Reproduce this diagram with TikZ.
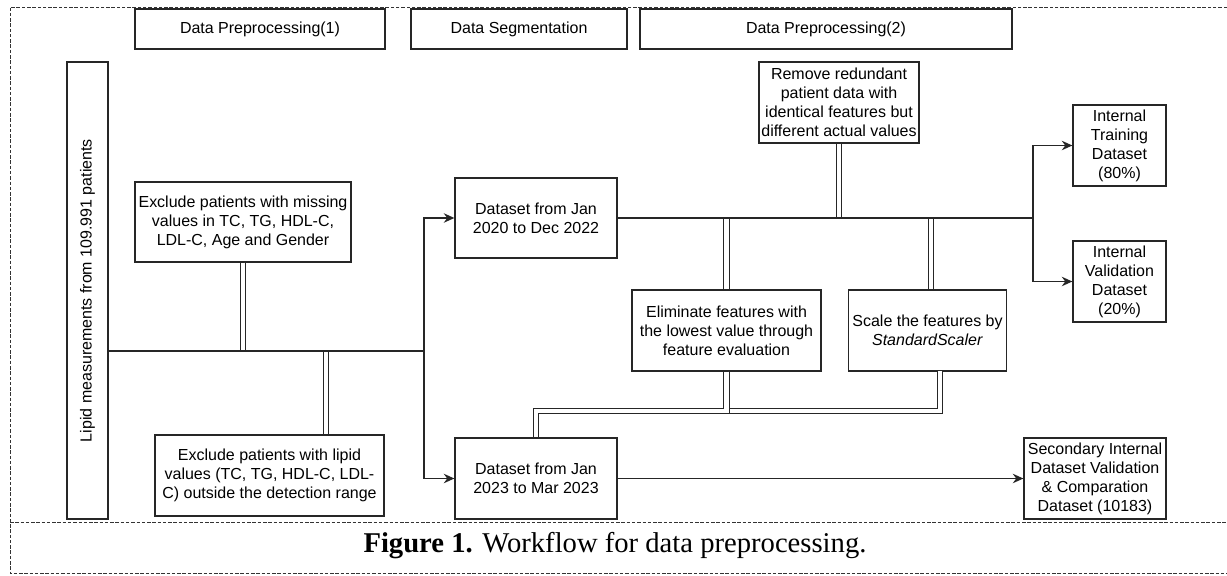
\documentclass[tikz,border=0pt]{standalone}
\usepackage{fontspec}
\setmainfont{Liberation Serif}
\newfontfamily\flowfont{Liberation Sans}
\usetikzlibrary{arrows.meta}

\newcommand{\pxu}{0.02cm}

\tikzset{
  flowtext/.style={font=\flowfont\fontsize{9.1}{10.8}\selectfont},
  box/.style={draw=black!85, line width=0.75pt, fill=white, align=center, inner sep=0pt, flowtext},
  hdr/.style={box, minimum height=40*\pxu},
  link/.style={draw=black!85, line width=0.7pt},
  arr/.style={link, -{Stealth[length=6pt,width=5.4pt]}},
  dbl/.style={draw=black!85, line width=0.6pt, double=white, double distance=2.4pt},
  frame/.style={black!80, line width=0.5pt, dash pattern=on 2pt off 1pt}
}

\begin{document}
\begin{tikzpicture}[x=0.02cm, y=-0.02cm]
        \useasboundingbox (0,0) rectangle (1227,575);
        \draw[frame] (1227,7) -- (10,7) -- (10,573) -- (1227,573);
        \draw[frame] (10,522) -- (1227,522);

        \node[hdr, minimum width=250*\pxu] (hdrpre) at (260,29) {Data Preprocessing(1)};
        \node[hdr, minimum width=216*\pxu] (hdrseg) at (519,29) {Data Segmentation};
        \node[hdr, minimum width=372*\pxu] (hdrpost) at (826,29) {Data Preprocessing(2)};

        \node[box, minimum width=41*\pxu, minimum height=457*\pxu] (lipid) at (87.5,290.5) {};
        \node[flowtext, rotate=90] (lipidtext) at (lipid) {Lipid measurements from 109.991 patients};

        \node[box, minimum width=216*\pxu, minimum height=80*\pxu] (excl1) at (243,222)
            {Exclude patients with missing\\values in TC, TG, HDL-C,\\LDL-C, Age and Gender};
        \node[box, minimum width=229*\pxu, minimum height=81*\pxu] (excl2) at (269.5,475.5)
            {Exclude patients with lipid\\values (TC, TG, HDL-C, LDL-\\C) outside the detection range};
        \node[box, minimum width=162*\pxu, minimum height=80*\pxu] (ds22) at (536,218)
            {Dataset from Jan\\2020 to Dec 2022};
        \node[box, minimum width=162*\pxu, minimum height=81*\pxu] (ds23) at (536,478.5)
            {Dataset from Jan\\2023 to Mar 2023};
        \node[box, minimum width=160*\pxu, minimum height=81*\pxu] (remove) at (839,102.5)
            {Remove redundant\\patient data with\\identical features but\\different actual values};
        \node[box, minimum width=189*\pxu, minimum height=81*\pxu] (elim) at (726.5,330.5)
            {Eliminate features with\\the lowest value through\\feature evaluation};
        \node[box, minimum width=158*\pxu, minimum height=81*\pxu] (scale) at (927.5,330.5)
            {Scale the features by\\\textit{StandardScaler}};
        \node[box, minimum width=93*\pxu, minimum height=81*\pxu] (train) at (1119.5,145.5)
            {Internal\\Training\\Dataset\\(80\%)};
        \node[box, minimum width=93*\pxu, minimum height=81*\pxu] (valid) at (1119.5,281.5)
            {Internal\\Validation\\Dataset\\(20\%)};
        \node[box, minimum width=142*\pxu, minimum height=81*\pxu] (second) at (1095,478.5)
            {Secondary Internal\\Dataset Validation\\\& Comparation\\Dataset (10183)};

        \coordinate (jmain) at (424,351);
        \coordinate (jsplit) at (1033,218);
        \coordinate (kexcl) at (326,351);
        \coordinate (kscale) at (931,218);
        \coordinate (kscaleout) at (940,371);
        \coordinate (kbend) at (536,411);

        \draw[dbl] (excl1.south) -- (excl1.south |- jmain);
        \draw[dbl] (kexcl) -- (kexcl |- excl2.north);
        \draw[dbl] (remove.south) -- (remove.south |- jsplit);
        \draw[dbl] (elim.north |- jsplit) -- (elim.north);
        \draw[dbl] (kscale) -- (kscale |- scale.north);
        \draw[dbl] (kscaleout) |- (kbend) -- (ds23.north);
        \draw[dbl] (elim.south) |- (kbend) -- (ds23.north);

        \draw[link] (lipid.east |- jmain) -- (jmain);
        \draw[arr] (jmain) |- (ds22);
        \draw[arr] (jmain) |- (ds23);
        \draw[link] (ds22.east) -- (jsplit);
        \draw[arr] (jsplit) |- (train);
        \draw[arr] (jsplit) |- (valid);
        \draw[arr] (ds23) -- (second);

        \node[anchor=base, font=\fontsize{16.3}{19}\selectfont] (caption) at (615,552)
            {\textbf{Figure 1.} Workflow for data preprocessing.};
\end{tikzpicture}
\end{document}
